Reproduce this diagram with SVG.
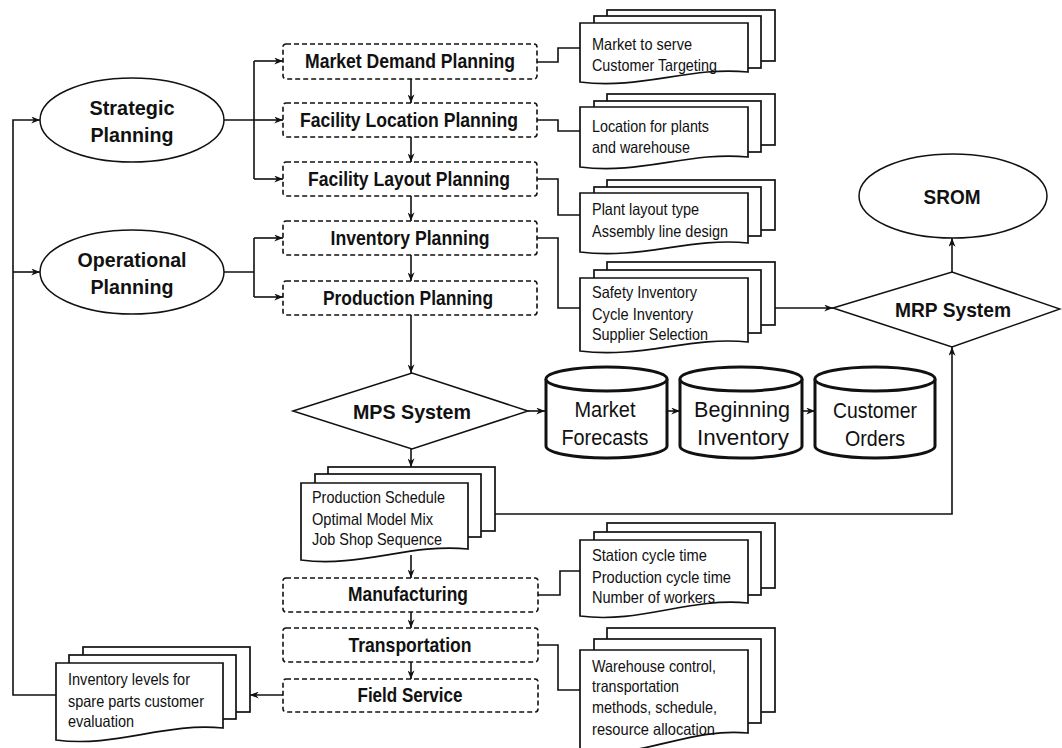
<svg xmlns="http://www.w3.org/2000/svg" width="1062" height="748" viewBox="0 0 1062 748">
<defs>
<marker id="ah" viewBox="0 0 10 8" refX="10" refY="4" markerWidth="9" markerHeight="7" orient="auto" markerUnits="userSpaceOnUse"><path d="M0,0 L10,4 L0,8 L3,4 z" fill="#111"/></marker>
</defs>
<style>
.bg{fill:#fff}
.lbl{font-family:"Liberation Sans",Arial,sans-serif;font-weight:bold;font-size:21px;fill:#111;text-anchor:middle}
.doc{font-family:"Liberation Sans",Arial,sans-serif;font-size:16.5px;fill:#111}
.cyl{font-family:"Liberation Sans",Arial,sans-serif;font-size:22px;fill:#111;text-anchor:middle}
.box{fill:#fff;stroke:#111;stroke-width:1.6;stroke-dasharray:5,3}
.shp{fill:#fff;stroke:#111;stroke-width:1.5}
.sheet{fill:#fff;stroke:#111;stroke-width:1.7}
.cy{fill:#fff;stroke:#111;stroke-width:3}
.con{fill:none;stroke:#111;stroke-width:1.6}
.arr{marker-end:url(#ah)}
</style>
<rect class="bg" x="0" y="0" width="1062" height="748"/>

<g id="connectors">
<path class="con arr" d="M56,695 H13 V120 H40"/>
<path class="con arr" d="M13,272 H40"/>
<path class="con" d="M224,120 H254 M254,61 V179"/>
<path class="con arr" d="M254,61 H283"/>
<path class="con arr" d="M254,120 H283"/>
<path class="con arr" d="M254,179 H283"/>
<path class="con" d="M224,272 H254 M254,238 V297"/>
<path class="con arr" d="M254,238 H283"/>
<path class="con arr" d="M254,297 H283"/>
<path class="con arr" d="M411,79 V103"/>
<path class="con arr" d="M411,137 V162"/>
<path class="con arr" d="M411,196 V221"/>
<path class="con arr" d="M411,255 V281"/>
<path class="con arr" d="M411,315 V373"/>
<path class="con arr" d="M411,449 V467"/>
<path class="con arr" d="M411,555 V578"/>
<path class="con arr" d="M411,612 V628"/>
<path class="con arr" d="M411,662 V679"/>
<path class="con" d="M537,62 H558 V48 H580"/>
<path class="con" d="M537,120 H558 V131 H580"/>
<path class="con" d="M537,179 H558 V215 H580"/>
<path class="con" d="M537,238 H558 V308 H580"/>
<path class="con" d="M538,595 H560 V571 H580"/>
<path class="con" d="M538,645 H558 V690 H580"/>
<path class="con arr" d="M775,308 H833"/>
<path class="con arr" d="M495,514 H952 V347"/>
<path class="con arr" d="M952,272 V238"/>
<path class="con arr" d="M528,411 H545"/>
<path class="con arr" d="M667,411 H680"/>
<path class="con arr" d="M802,411 H815"/>
<path class="con arr" d="M283,695 H250"/>
</g>

<g id="strategic">
<ellipse class="shp" cx="132" cy="120" rx="92" ry="42"/>
<text class="lbl" x="132" y="115" textLength="85" lengthAdjust="spacingAndGlyphs">Strategic</text>
<text class="lbl" x="132" y="142" textLength="83" lengthAdjust="spacingAndGlyphs">Planning</text>
</g>
<g id="operational">
<ellipse class="shp" cx="132" cy="272" rx="92" ry="42"/>
<text class="lbl" x="132" y="267" textLength="109" lengthAdjust="spacingAndGlyphs">Operational</text>
<text class="lbl" x="132" y="294" textLength="83" lengthAdjust="spacingAndGlyphs">Planning</text>
</g>

<g id="market-demand">
<rect class="box" x="283" y="44" width="254" height="35" rx="3"/>
<text class="lbl" x="410" y="68" textLength="210" lengthAdjust="spacingAndGlyphs">Market Demand Planning</text>
</g>
<g id="facility-location">
<rect class="box" x="283" y="103" width="254" height="34" rx="3"/>
<text class="lbl" x="409" y="127" textLength="218" lengthAdjust="spacingAndGlyphs">Facility Location Planning</text>
</g>
<g id="facility-layout">
<rect class="box" x="283" y="162" width="254" height="34" rx="3"/>
<text class="lbl" x="409" y="186" textLength="202" lengthAdjust="spacingAndGlyphs">Facility Layout Planning</text>
</g>
<g id="inventory-planning">
<rect class="box" x="283" y="221" width="254" height="34" rx="3"/>
<text class="lbl" x="410" y="245" textLength="159" lengthAdjust="spacingAndGlyphs">Inventory Planning</text>
</g>
<g id="production-planning">
<rect class="box" x="283" y="281" width="254" height="34" rx="3"/>
<text class="lbl" x="408" y="305" textLength="170" lengthAdjust="spacingAndGlyphs">Production Planning</text>
</g>

<g id="doc-market">
<rect class="sheet" x="607" y="10" width="168" height="51"/>
<rect class="sheet" x="594" y="16" width="167" height="52"/>
<path class="sheet" d="M580,23 H748 V72 C690,66 640,90 580,82 Z"/>
<text class="doc" x="592" y="50" textLength="100" lengthAdjust="spacingAndGlyphs">Market to serve</text>
<text class="doc" x="592" y="71" textLength="125" lengthAdjust="spacingAndGlyphs">Customer Targeting</text>
</g>
<g id="doc-location">
<rect class="sheet" x="607" y="94" width="168" height="51"/>
<rect class="sheet" x="594" y="101" width="167" height="51"/>
<path class="sheet" d="M580,107 H748 V157 C690,151 640,175 580,167 Z"/>
<text class="doc" x="592" y="132" textLength="117" lengthAdjust="spacingAndGlyphs">Location for plants</text>
<text class="doc" x="592" y="153" textLength="98" lengthAdjust="spacingAndGlyphs">and warehouse</text>
</g>
<g id="doc-layout">
<rect class="sheet" x="607" y="180" width="168" height="50"/>
<rect class="sheet" x="594" y="187" width="167" height="49"/>
<path class="sheet" d="M580,193 H748 V243 C690,237 640,260 580,252 Z"/>
<text class="doc" x="592" y="215" textLength="107" lengthAdjust="spacingAndGlyphs">Plant layout type</text>
<text class="doc" x="592" y="237" textLength="136" lengthAdjust="spacingAndGlyphs">Assembly line design</text>
</g>
<g id="doc-inventory">
<rect class="sheet" x="607" y="262" width="168" height="63"/>
<rect class="sheet" x="594" y="270" width="167" height="63"/>
<path class="sheet" d="M580,278 H748 V342 C690,336 640,359 580,351 Z"/>
<text class="doc" x="592" y="298" textLength="105" lengthAdjust="spacingAndGlyphs">Safety Inventory</text>
<text class="doc" x="592" y="320" textLength="101" lengthAdjust="spacingAndGlyphs">Cycle Inventory</text>
<text class="doc" x="592" y="340" textLength="116" lengthAdjust="spacingAndGlyphs">Supplier Selection</text>
</g>

<g id="srom">
<ellipse class="shp" cx="953" cy="196" rx="94" ry="42"/>
<text class="lbl" x="952" y="204" textLength="57" lengthAdjust="spacingAndGlyphs">SROM</text>
</g>
<g id="mrp">
<polygon class="shp" points="833,308 952,272 1060,309 952,347" stroke-width="1.2"/>
<text class="lbl" x="953" y="317" textLength="116" lengthAdjust="spacingAndGlyphs">MRP System</text>
</g>
<g id="mps">
<polygon class="shp" points="293,411 412,373 528,411 412,449" stroke-width="1.2"/>
<text class="lbl" x="412" y="419" textLength="118" lengthAdjust="spacingAndGlyphs">MPS System</text>
</g>

<g id="market-forecasts">
<path class="cy" d="M546,379 V446 A60.5,12 0 0 0 667,446 V379"/>
<ellipse class="cy" cx="606.5" cy="379" rx="60.5" ry="12"/>
<text class="cyl" x="605" y="417" textLength="61" lengthAdjust="spacingAndGlyphs">Market</text>
<text class="cyl" x="605" y="445" textLength="87" lengthAdjust="spacingAndGlyphs">Forecasts</text>
</g>
<g id="beginning-inventory">
<path class="cy" d="M680,379 V446 A61,12 0 0 0 802,446 V379"/>
<ellipse class="cy" cx="741" cy="379" rx="61" ry="12"/>
<text class="cyl" x="742" y="417" textLength="96" lengthAdjust="spacingAndGlyphs">Beginning</text>
<text class="cyl" x="743" y="445" textLength="92" lengthAdjust="spacingAndGlyphs">Inventory</text>
</g>
<g id="customer-orders">
<path class="cy" d="M815,379 V446 A60,12 0 0 0 935,446 V379"/>
<ellipse class="cy" cx="875" cy="379" rx="60" ry="12"/>
<text class="cyl" x="875" y="418" textLength="84" lengthAdjust="spacingAndGlyphs">Customer</text>
<text class="cyl" x="875" y="446" textLength="60" lengthAdjust="spacingAndGlyphs">Orders</text>
</g>

<g id="doc-schedule">
<rect class="sheet" x="328" y="467" width="167" height="64"/>
<rect class="sheet" x="315" y="474" width="166" height="63"/>
<path class="sheet" d="M301,483 H468 V549 C410,543 360,568 301,560 Z"/>
<text class="doc" x="312" y="503" textLength="133" lengthAdjust="spacingAndGlyphs">Production Schedule</text>
<text class="doc" x="312" y="525" textLength="121" lengthAdjust="spacingAndGlyphs">Optimal Model Mix</text>
<text class="doc" x="312" y="545" textLength="130" lengthAdjust="spacingAndGlyphs">Job Shop Sequence</text>
</g>

<g id="manufacturing">
<rect class="box" x="283" y="578" width="255" height="34" rx="3"/>
<text class="lbl" x="408" y="601" textLength="120" lengthAdjust="spacingAndGlyphs">Manufacturing</text>
</g>
<g id="transportation">
<rect class="box" x="283" y="628" width="255" height="34" rx="3"/>
<text class="lbl" x="410" y="652" textLength="123" lengthAdjust="spacingAndGlyphs">Transportation</text>
</g>
<g id="field-service">
<rect class="box" x="283" y="679" width="255" height="33" rx="3"/>
<text class="lbl" x="410" y="702" textLength="105" lengthAdjust="spacingAndGlyphs">Field Service</text>
</g>

<g id="doc-station">
<rect class="sheet" x="607" y="523" width="168" height="65"/>
<rect class="sheet" x="594" y="532" width="167" height="63"/>
<path class="sheet" d="M580,540 H748 V603 C690,597 640,624 580,616 Z"/>
<text class="doc" x="592" y="561" textLength="115" lengthAdjust="spacingAndGlyphs">Station cycle time</text>
<text class="doc" x="592" y="583" textLength="139" lengthAdjust="spacingAndGlyphs">Production cycle time</text>
<text class="doc" x="592" y="603" textLength="123" lengthAdjust="spacingAndGlyphs">Number of workers</text>
</g>
<g id="doc-warehouse">
<rect class="sheet" x="607" y="628" width="168" height="84"/>
<rect class="sheet" x="594" y="639" width="167" height="84"/>
<path class="sheet" d="M580,650 H748 V733 C690,727 640,760 580,752 Z"/>
<text class="doc" x="592" y="672" textLength="124" lengthAdjust="spacingAndGlyphs">Warehouse control,</text>
<text class="doc" x="592" y="692" textLength="87" lengthAdjust="spacingAndGlyphs">transportation</text>
<text class="doc" x="592" y="713" textLength="125" lengthAdjust="spacingAndGlyphs">methods, schedule,</text>
<text class="doc" x="592" y="735" textLength="123" lengthAdjust="spacingAndGlyphs">resource allocation</text>
</g>
<g id="doc-spare">
<rect class="sheet" x="83" y="647" width="167" height="65"/>
<rect class="sheet" x="69" y="655" width="167" height="64"/>
<path class="sheet" d="M56,663 H223 V728 C165,722 115,748 56,740 Z"/>
<text class="doc" x="68" y="685" textLength="122" lengthAdjust="spacingAndGlyphs">Inventory levels for</text>
<text class="doc" x="68" y="707" textLength="136" lengthAdjust="spacingAndGlyphs">spare parts customer</text>
<text class="doc" x="68" y="727" textLength="66" lengthAdjust="spacingAndGlyphs">evaluation</text>
</g>
</svg>
